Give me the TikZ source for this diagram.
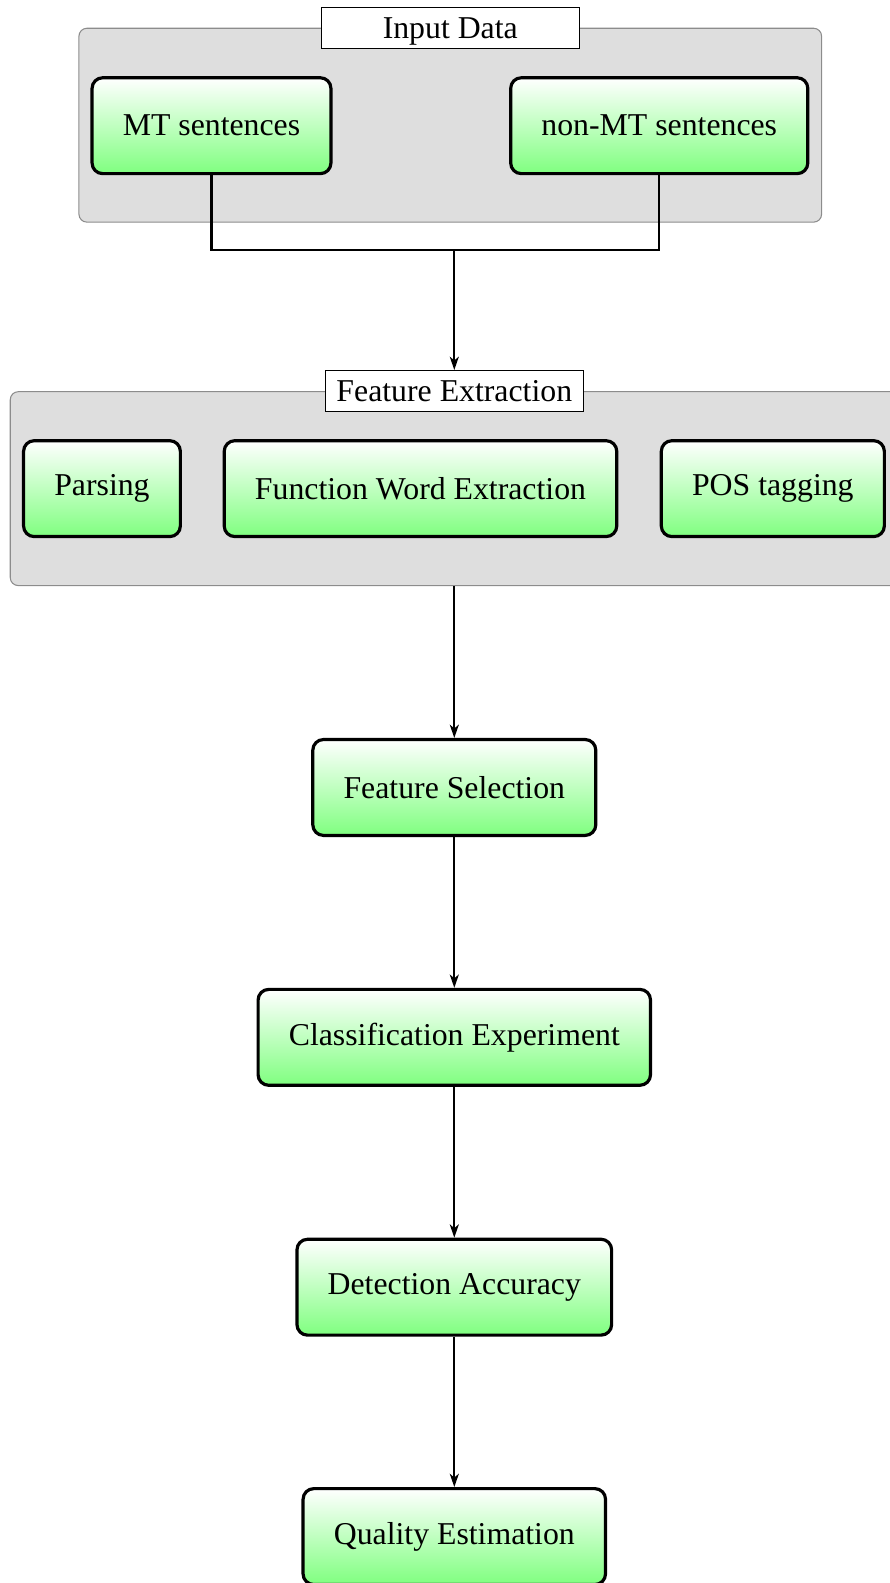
\documentclass[tikz,border=0pt]{standalone}
\usepackage{fontspec}
\setmainfont{Liberation Serif}
\usetikzlibrary{shapes,calc,arrows.meta}

\tikzset{
  stage/.style={draw,line width=1.2pt,rounded corners=4pt,top color=white,
    bottom color=green!50,minimum height=36.2pt,inner xsep=11.6pt},
  group/.style={draw=black!45,fill=black!13,rounded corners=3pt,
    minimum height=73.2pt},
  grouptitle/.style={draw,fill=white,minimum width=97.5pt,
    minimum height=15.6pt,inner sep=1pt,text depth=0pt},
  link/.style={line width=0.8pt},
}

\begin{document}
\begin{tikzpicture}[x=0.0134cm,y=-0.0134cm,font=\large,
    >={Stealth[length=5pt,width=3.4pt,inset=1.4pt]}]
  \useasboundingbox (0,0) rectangle (881,1568);
  % input data
  \node[group,minimum width=280.4pt] (inbox) at (446,124) {};
  \node[grouptitle] (intitle) at (inbox.north) {Input Data};
  \node[stage] (mt) at (209.5,124.5) {MT sentences};
  \node[stage] (nonmt) at (653,124.5) {non-MT sentences};
  % feature extraction
  \node[group,minimum width=335.3pt] (febox) at (450,484) {};
  \node[grouptitle] (fetitle) at (febox.north) {Feature Extraction};
  \node[stage] (parse) at (101,484) {Parsing};
  \node[stage] (fwe) at (416.5,484) {Function Word Extraction};
  \node[stage] (pos) at (765.5,484) {POS tagging};
  % pipeline
  \node[stage] (fs) at (450,780) {Feature Selection};
  \node[stage] (ce) at (450,1027.5) {Classification Experiment};
  \node[stage] (da) at (450,1275) {Detection Accuracy};
  \node[stage] (qe) at (450,1522) {Quality Estimation};
  \coordinate (join) at (450,248);
  \draw[link] (mt.south) |- (join) -| (nonmt.south);
  \path[->,link] (join) edge (fetitle) (febox) edge (fs);
  \path[->,link] (fs) edge (ce) (ce) edge (da) (da) edge (qe);
\end{tikzpicture}
\end{document}
